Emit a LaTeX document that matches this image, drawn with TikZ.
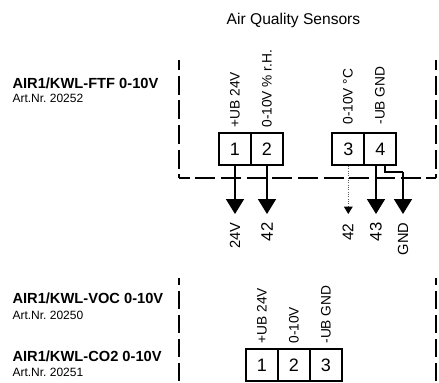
\documentclass[tikz,border=0pt]{standalone}
\usepackage{fontspec}
\setmainfont{Liberation Sans}
\usetikzlibrary{arrows.meta}

\tikzset{every picture/.style={line width=0.75pt}}
\tikzset{
  terminal/.style={draw,line width=1.3pt,minimum size=24pt,inner sep=0pt,font=\fontsize{13.5}{15}\selectfont},
  pinlabel/.style={rotate=90,anchor=west,inner sep=0pt,font=\fontsize{10.3}{12}\selectfont},
  wirelabel/.style={rotate=90,anchor=east,inner sep=0pt,font=\fontsize{11}{12}\selectfont},
  biglabel/.style={wirelabel,font=\fontsize{12.5}{14}\selectfont},
  sensorname/.style={anchor=base west,inner sep=0pt,font=\fontsize{11}{13}\selectfont\bfseries},
  artnr/.style={anchor=base west,inner sep=0pt,font=\frenchspacing\fontsize{9}{10}\selectfont},
  housing/.style={line width=1.4pt,dash pattern={on 14.25pt off 4.27pt},dash phase=6.75pt},
  housingfoot/.style={line width=1.4pt,dash pattern={on 15pt off 4.27pt},dash phase=7.1pt},
  lowhousing/.style={line width=1.4pt,dash pattern={on 13.1pt off 4.9pt},dash phase=7.9pt},
  wire/.style={line width=1.3pt,-{Triangle[length=11.25pt,width=13.5pt]}},
  thinwire/.style={line width=0.75pt,densely dotted,color={rgb, 255:red, 90; green, 90; blue, 90},-{Triangle[length=5.5pt,width=6.5pt,color=black]}}
}

\begin{document}
\begin{tikzpicture}[x=0.75pt,y=0.75pt,yscale=-1,xscale=1]
		\useasboundingbox (0,0) rectangle (439,382);

		% Text Node
		\node [anchor=base,inner sep=0pt,font=\fontsize{11.7}{13}\selectfont] (title) at (293.5,24.5) {Air Quality Sensors};

		% Text Node
		\node [sensorname] (ftf) at (12,88) {AIR1/KWL-FTF 0-10V};
		\node [artnr] (ftfnr) at (12,102) {Art.Nr. 20252};
		\node [sensorname] (voc) at (12,303) {AIR1/KWL-VOC 0-10V};
		\node [artnr] (vocnr) at (12,319) {Art.Nr. 20250};
		\node [sensorname] (co) at (12,361) {AIR1/KWL-CO2 0-10V};
		\node [artnr] (conr) at (12,376) {Art.Nr. 20251};

		%Upper housing
		\coordinate (hta) at (179,60);
		\coordinate (hba) at (179,178);
		\coordinate (hbb) at (436,178);
		\coordinate (htb) at (436,60);
		\draw [housing] (hta) -- (hba);
		\draw [housingfoot] (hba) -- (hbb);
		\draw [housing] (htb) -- (hbb);

		%Lower housing
		\coordinate (lta) at (179,278);
		\coordinate (lba) at (179,382);
		\coordinate (ltb) at (436,278);
		\coordinate (lbb) at (436,382);
		\draw [lowhousing] (lta) -- (lba);
		\draw [lowhousing] (ltb) -- (lbb);

		%Upper terminals
		\node [terminal] (ta) at (235,149) {1};
		\node [terminal] (tb) at (267,149) {2};
		\node [terminal] (tc) at (348.3,149) {3};
		\node [terminal] (td) at (380.3,149) {4};

		%Lower terminals
		\node [terminal] (la) at (262,365) {1};
		\node [terminal] (lb) at (294,365) {2};
		\node [terminal] (lc) at (326,365) {3};

		% Text Node
		\node [pinlabel] (pa) at (235,128) {+UB 24V};
		\node [pinlabel] (pb) at (267,128) {0-10V \% r.H.};
		\node [pinlabel] (pc) at (348,125) {0-10V °C};
		\node [pinlabel] (pd) at (380,125) {-UB GND};
		\node [pinlabel] (qa) at (262,344) {+UB 24V};
		\node [pinlabel] (qb) at (294,344) {0-10V};
		\node [pinlabel] (qc) at (326,344) {-UB GND};

		%Wire ends
		\coordinate (ea) at (235,214);
		\coordinate (eb) at (267,214);
		\coordinate (ec) at (348.3,214);
		\coordinate (ed) at (376,214);
		\coordinate (ee) at (403,214);
		\coordinate (sd) at (376,165);
		\coordinate (se) at (385,165);
		\coordinate (ke) at (385,172);
		\coordinate (kf) at (403,172);

		%Wires
		\draw [wire] (ta.south) -- (ea);
		\draw [wire] (tb.south) -- (eb);
		\draw [thinwire] (tc.south) -- (ec);
		\draw [wire] (sd) -- (ed);
		\draw [line width=1.3pt] (se) -- (ke) -- (kf);
		\draw [wire] (kf) -- (ee);

		% Text Node
		\node [wirelabel] (wa) at (235,222) {24V};
		\node [biglabel] (wb) at (267,222) {42};
		\node [wirelabel,font=\fontsize{11.6}{13}\selectfont] (wc) at (348,223) {42};
		\node [biglabel] (wd) at (376,222) {43};
		\node [wirelabel] (we) at (403,222) {GND};
	\end{tikzpicture}
\end{document}
